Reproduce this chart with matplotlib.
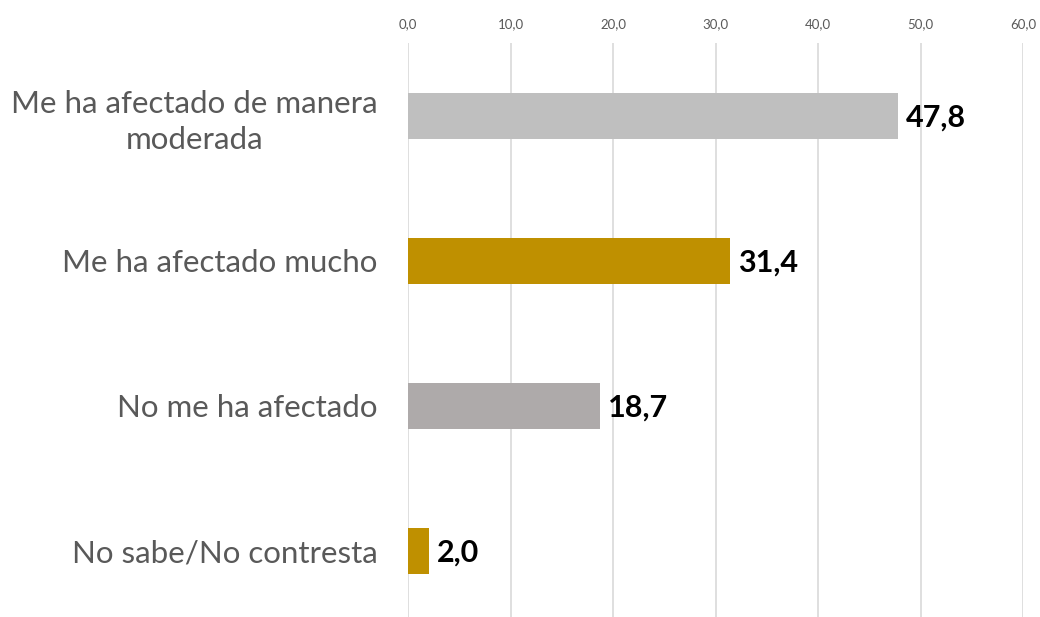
import matplotlib.pyplot as plt

# Data
categories = ["Me ha afectado de manera\nmoderada", "Me ha afectado mucho",
              "No me ha afectado", "No sabe/No contresta"]
values = [47.8, 31.4, 18.7, 2.0]
bar_colors = ["#BFBFBF", "#BF9000", "#AEAAAA", "#BF9000"]
ticks = [0, 10, 20, 30, 40, 50, 60]

plt.rcParams['font.family'] = ['Lato', 'DejaVu Sans']

fig = plt.figure(figsize=(10.4, 6.17), dpi=100)
ax = fig.add_axes([408 / 1040, 0, (1023 - 408) / 1040, 1 - 43 / 617])

pos = list(range(len(categories)))
ax.barh(pos, values, height=0.32, color=bar_colors, zorder=3)

for p, v in zip(pos, values):
    ax.annotate(f"{v:.1f}".replace(".", ","), (v, p), xytext=(6, -1),
                textcoords="offset points", va="center", ha="left",
                fontsize=22, fontweight="bold", color="black")

ax.set_xlim(0, 60)
ax.set_ylim(3.455, -0.503)
ax.set_xticks(ticks)
ax.set_xticklabels([f"{t:.1f}".replace(".", ",") for t in ticks],
                   fontsize=9.5, color="#595959")
ax.xaxis.tick_top()
ax.tick_params(axis="x", length=0, pad=9)
ax.set_yticks(pos)
ax.set_yticklabels(categories, fontsize=22.5, color="#595959",
                   multialignment="center", linespacing=1.35)
ax.tick_params(axis="y", length=0, pad=22)
ax.grid(axis="x", color="#D9D9D9", linewidth=1.2, zorder=0)
for s in ax.spines.values():
    s.set_visible(False)

plt.savefig("out.png", dpi=100)
